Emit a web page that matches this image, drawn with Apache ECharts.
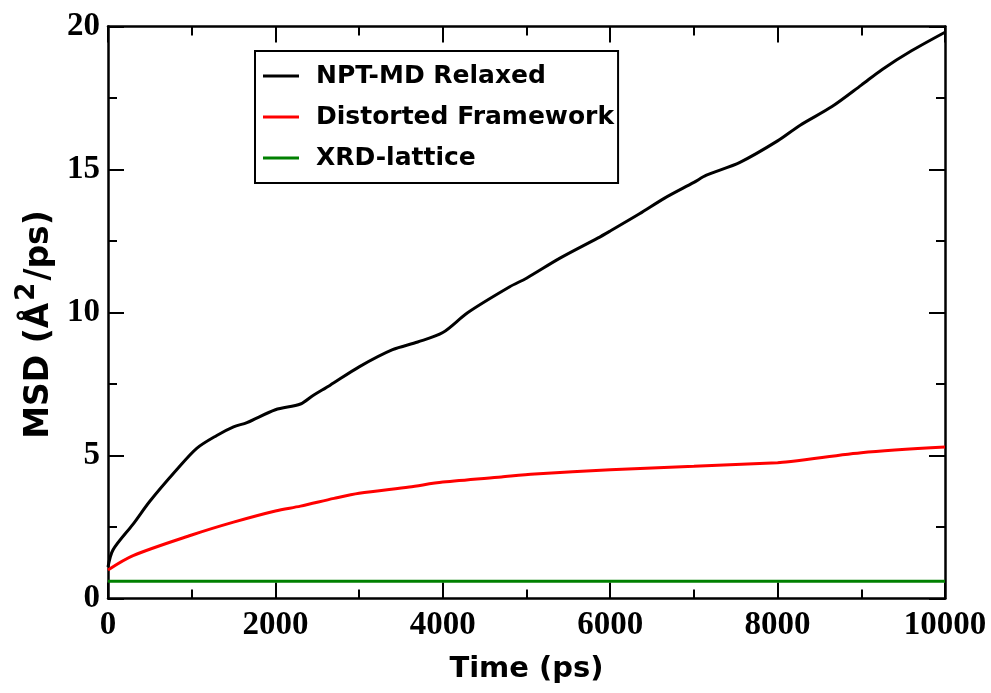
<!DOCTYPE html>
<html>
<head>
<meta charset="utf-8">
<script src="https://cdn.jsdelivr.net/npm/echarts@6/dist/echarts.min.js"></script>
<style>
  html, body { margin: 0; padding: 0; background: #fff; }
  #chart { width: 991px; height: 693px; }
</style>
</head>
<body>
<div id="chart"></div>
<script>
// Mean squared displacement vs. simulation time for three structural models
const seriesNames = ['NPT-MD Relaxed', 'Distorted Framework', 'XRD-lattice'];

const timeRelaxed = [0, 60, 300, 500, 820, 1060, 1300, 1500, 1660, 2000, 2300, 2450, 2650, 3000, 3400, 3700, 4000, 4300, 4800, 5000, 5400, 5850, 6000, 6350, 6650, 7000, 7150, 7550, 8000, 8270, 8650, 9000, 9250, 9600, 10000];
const msdRelaxed  = [1.1, 1.7, 2.6, 3.4, 4.5, 5.25, 5.7, 6.0, 6.15, 6.6, 6.8, 7.1, 7.45, 8.1, 8.7, 8.97, 9.3, 10.0, 10.9, 11.2, 11.9, 12.6, 12.85, 13.45, 14.0, 14.55, 14.8, 15.25, 16.0, 16.55, 17.2, 17.95, 18.5, 19.15, 19.8];

const timeDistorted = [0, 300, 1000, 1500, 2000, 2300, 2700, 3000, 3600, 4000, 4700, 5100, 6000, 7000, 8000, 8100, 9000, 10000];
const msdDistorted  = [1.0, 1.5, 2.22, 2.67, 3.06, 3.23, 3.5, 3.68, 3.9, 4.07, 4.25, 4.35, 4.5, 4.62, 4.75, 4.77, 5.1, 5.3];

const timeXrd = [0, 10000];
const msdXrd  = [0.6, 0.6];

const xTicks = { min: 0, max: 10000, interval: 2000 };
const yTicks = { min: 0, max: 20, interval: 5 };

const pairs = (xs, ys) => xs.map((x, i) => [x, ys[i]]);

const tickFont = {
  fontFamily: '"Liberation Serif", "Times New Roman", Times, serif',
  fontWeight: 'bold', fontSize: 33, color: '#000',
  formatter: (v) => String(v)
};
const sansBold = '"DejaVu Sans", Verdana, sans-serif';

function axisCommon(showLabels) {
  return {
    axisLine: { show: true, onZero: false, lineStyle: { color: '#000', width: 2.5 } },
    axisTick: { show: true, inside: true, length: 16, lineStyle: { color: '#000', width: 2 } },
    minorTick: { show: true, splitNumber: 2, length: 9, lineStyle: { color: '#000', width: 2 } },
    splitLine: { show: false },
    minorSplitLine: { show: false },
    axisLabel: Object.assign({ show: showLabels }, tickFont)
  };
}

const chart = echarts.init(document.getElementById('chart'), null, { renderer: 'canvas' });

chart.setOption({
  animation: false,
  backgroundColor: '#fff',
  grid: { left: 108, right: 46, top: 26.5, bottom: 94.5, containLabel: false },
  legend: {
    orient: 'vertical',
    left: 255,
    top: 51,
    borderColor: '#000',
    borderWidth: 2,
    padding: [11, 4, 11, 8],
    itemGap: 13,
    itemWidth: 36,
    itemHeight: 3,
    icon: 'rect',
    data: seriesNames,
    textStyle: { fontFamily: sansBold, fontWeight: 'bold', fontSize: 25, color: '#000', lineHeight: 28, padding: [0, 0, 0, 12] }
  },
  xAxis: [
    Object.assign({
      type: 'value', position: 'bottom', min: xTicks.min, max: xTicks.max, interval: xTicks.interval,
      name: 'Time (ps)', nameLocation: 'middle', nameGap: 56,
      nameTextStyle: { fontFamily: sansBold, fontWeight: 'bold', fontSize: 29, color: '#000' }
    }, axisCommon(true), { axisLabel: Object.assign({ margin: 10 }, tickFont) }),
    Object.assign({
      type: 'value', position: 'top', min: xTicks.min, max: xTicks.max, interval: xTicks.interval
    }, axisCommon(false))
  ],
  yAxis: [
    Object.assign({
      type: 'value', position: 'left', min: yTicks.min, max: yTicks.max, interval: yTicks.interval,
      name: '{t|MSD (Å}{s|2}{t|/ps)}', nameLocation: 'middle', nameGap: 46,
      nameTextStyle: {
        padding: [0, 24, 0, 0],
        rich: {
          t: { fontFamily: sansBold, fontWeight: 'bold', fontSize: 33, color: '#000', verticalAlign: 'bottom' },
          s: { fontFamily: sansBold, fontWeight: 'bold', fontSize: 26, color: '#000', verticalAlign: 'bottom', padding: [0, 2, 16, 2] }
        }
      }
    }, axisCommon(true), { axisLabel: Object.assign({ margin: 8 }, tickFont) }),
    Object.assign({
      type: 'value', position: 'right', min: yTicks.min, max: yTicks.max, interval: yTicks.interval
    }, axisCommon(false))
  ],
  series: [
    {
      name: seriesNames[0], type: 'line', xAxisIndex: 0, yAxisIndex: 0,
      data: pairs(timeRelaxed, msdRelaxed), showSymbol: false, smooth: 0.3,
      color: '#000', lineStyle: { color: '#000', width: 3 }, z: 3
    },
    {
      name: seriesNames[1], type: 'line', xAxisIndex: 0, yAxisIndex: 0,
      data: pairs(timeDistorted, msdDistorted), showSymbol: false, smooth: 0.3,
      color: '#ff0000', lineStyle: { color: '#ff0000', width: 3 }, z: 2
    },
    {
      name: seriesNames[2], type: 'line', xAxisIndex: 0, yAxisIndex: 0,
      data: pairs(timeXrd, msdXrd), showSymbol: false,
      color: '#008000', lineStyle: { color: '#008000', width: 3 }, z: 2
    }
  ]
});
</script>
</body>
</html>
